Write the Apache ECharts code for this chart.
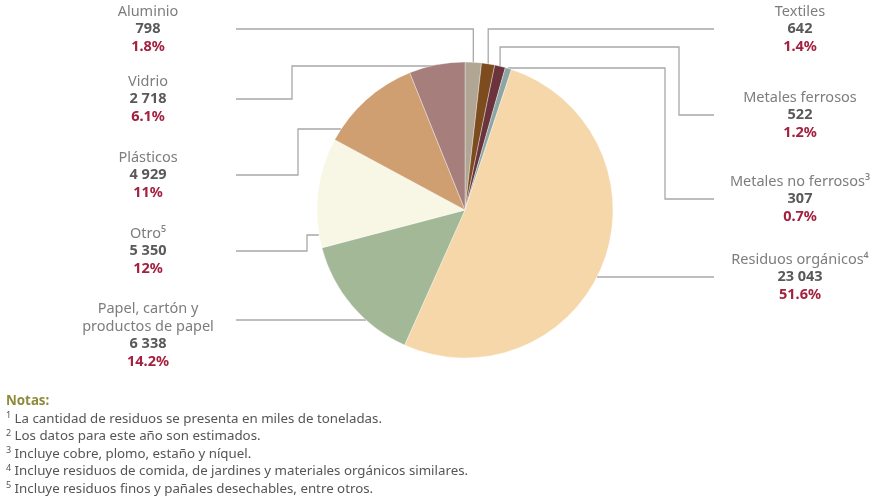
<!DOCTYPE html>
<html>
<head>
<meta charset="utf-8">
<script src="https://cdn.jsdelivr.net/npm/echarts@6/dist/echarts.min.js"></script>
<style>
  html, body { margin: 0; padding: 0; background: #ffffff; }
  #chart { width: 875px; height: 498px; }
</style>
</head>
<body>
<div id="chart"></div>
<script>
// Residuos sólidos urbanos por tipo (miles de toneladas), clockwise from 12 o'clock
const categories = [
  'Aluminio',
  'Textiles',
  'Metales ferrosos',
  'Metales no ferrosos³',
  'Residuos orgánicos⁴',
  'Papel, cartón y\nproductos de papel',
  'Otro⁵',
  'Plásticos',
  'Vidrio'
];
const amounts = [798, 642, 522, 307, 23043, 6338, 5350, 4929, 2718];
const shareLabels = ['1.8%', '1.4%', '1.2%', '0.7%', '51.6%', '14.2%', '12%', '11%', '6.1%'];
const sliceColors = ['#b1a593', '#7c4b1e', '#6b333b', '#8ea5a3', '#f5d7a9', '#a3b896', '#f8f6e5', '#cf9f71', '#a67f7c'];

const noteTitle = 'Notas:';
const noteMarks = ['1', '2', '3', '4', '5'];
const noteLines = [
  'La cantidad de residuos se presenta en miles de toneladas.',
  'Los datos para este año son estimados.',
  'Incluye cobre, plomo, estaño y níquel.',
  'Incluye residuos de comida, de jardines y materiales orgánicos similares.',
  'Incluye residuos finos y pañales desechables, entre otros.'
];

// ---- layout ----
const CX = 465, CY = 210, R = 148;
const LINE_H = 17.5;
const LEFT_END = 236, RIGHT_END = 714;
const FONT = '"Noto Sans", sans-serif';

// label block per slice: centre x, value-row y, leader y, optional elbow, how the leader meets the pie
const placement = [
  { x: 148, vy: 29,  ly: 29,  end: 'mid' },
  { x: 800, vy: 29,  ly: 29,  end: 'mid' },
  { x: 800, vy: 115, ly: 115, ex: 679, ey: 47, end: 'mid' },
  { x: 800, vy: 199, ly: 199, ex: 665, ey: 68, end: 'mid' },
  { x: 800, vy: 277, ly: 277, end: 'edge' },
  { x: 148, vy: 344, ly: 320, end: 'edge' },
  { x: 148, vy: 251, ly: 251, ex: 307, ey: 235, end: 'edge' },
  { x: 148, vy: 175, ly: 175, ex: 298, ey: 129, end: 'edge' },
  { x: 148, vy: 99,  ly: 99,  ex: 292, ey: 66,  end: 'mid' }
];

function groupThousands(v) {
  return String(v).replace(/\B(?=(\d{3})+(?!\d))/g, ' ');
}

const total = amounts.reduce((a, b) => a + b, 0);
function midEdgePoint(i) {
  let before = 0;
  for (let k = 0; k < i; k++) before += amounts[k];
  const t = (before + amounts[i] / 2) / total * Math.PI * 2;
  return [CX + R * Math.sin(t), CY - R * Math.cos(t)];
}

const pieData = categories.map((name, i) => ({
  name: name,
  value: amounts[i],
  itemStyle: { color: sliceColors[i] }
}));

const chart = echarts.init(document.getElementById('chart'), null, { renderer: 'canvas' });

chart.setOption({
  backgroundColor: '#ffffff',
  animation: false,
  series: [{
    type: 'pie',
    center: [CX, CY],
    radius: R,
    startAngle: 90,
    clockwise: true,
    avoidLabelOverlap: false,
    data: pieData,
    itemStyle: { borderColor: 'rgba(255,255,255,0.6)', borderWidth: 0.6 },
    emphasis: { disabled: true },
    label: {
      show: true,
      position: 'outside',
      fontFamily: FONT,
      formatter: function (p) {
        const i = p.dataIndex;
        const nameRows = categories[i].split('\n').map(s => '{n|' + s + '}').join('\n');
        return nameRows + '\n{v|' + groupThousands(amounts[i]) + '}\n{p|' + shareLabels[i] + '}';
      },
      rich: {
        n: { fontFamily: FONT, fontSize: 14.5, color: '#7d7d7d', lineHeight: LINE_H, align: 'center' },
        v: { fontFamily: FONT, fontSize: 14.5, color: '#595959', fontWeight: 'bold', lineHeight: LINE_H, align: 'center' },
        p: { fontFamily: FONT, fontSize: 14.5, color: '#a3213f', fontWeight: 'bold', lineHeight: LINE_H, align: 'center' }
      }
    },
    labelLine: {
      show: true,
      length: 10,
      length2: 10,
      lineStyle: { color: '#a8a8a8', width: 1.3 }
    },
    labelLayout: function (p) {
      const i = p.dataIndex;
      const pl = placement[i];
      const left = pl.x < CX;
      const nameRows = categories[i].split('\n').length;
      const top = pl.vy - (nameRows + 0.5) * LINE_H;
      const pts = [[left ? LEFT_END : RIGHT_END, pl.ly]];
      let y = pl.ly;
      if (pl.ex != null) {
        pts.push([pl.ex, y]);
        y = pl.ey;
        pts.push([pl.ex, y]);
      }
      if (pl.end === 'mid') {
        const a = (p.labelLinePoints && p.labelLinePoints[0]) || midEdgePoint(i);
        pts.push([a[0], y]);
        pts.push([a[0], a[1]]);
      } else {
        const dy = y - CY;
        const dx = Math.sqrt(Math.max(0, R * R - dy * dy));
        pts.push([left ? CX - dx : CX + dx, y]);
      }
      return { x: pl.x, y: top, align: 'center', verticalAlign: 'top', labelLinePoints: pts };
    }
  }],
  graphic: [{
    type: 'text',
    left: 6,
    top: 395,
    silent: true,
    style: {
      text: '{h|' + noteTitle + '}\n' + noteLines.map((t, k) => '{s|' + noteMarks[k] + '}{t| ' + t + '}').join('\n'),
      rich: {
        h: { fontFamily: FONT, fontSize: 13.3, fontWeight: 'bold', fill: '#8d8b3c', lineHeight: 17.5 },
        s: { fontFamily: FONT, fontSize: 9, fill: '#555555', lineHeight: 17.5, verticalAlign: 'top', padding: [1, 0, 0, 0] },
        t: { fontFamily: FONT, fontSize: 13.3, fill: '#555555', lineHeight: 17.5 }
      }
    }
  }]
});
</script>
</body>
</html>
